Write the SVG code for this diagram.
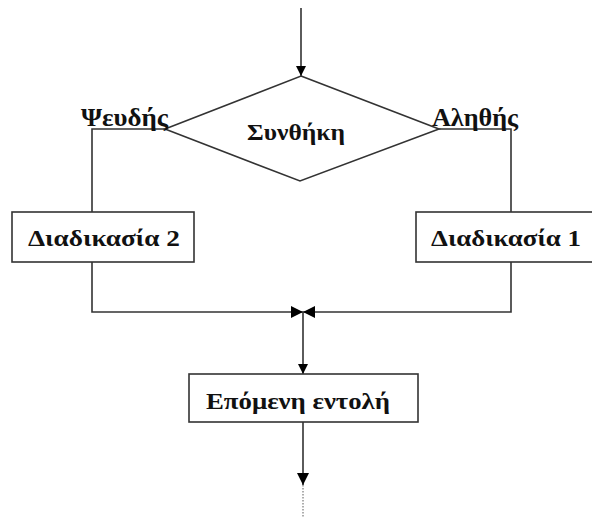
<svg xmlns="http://www.w3.org/2000/svg" width="592" height="518" viewBox="0 0 592 518">
<defs>
<marker id="arr" viewBox="0 0 10 10" refX="10" refY="5" markerWidth="10" markerHeight="10" markerUnits="userSpaceOnUse" orient="auto">
<path d="M0,0 L10,5 L0,10 z" fill="#000"/>
</marker>
<marker id="arrB" viewBox="0 0 12 12" refX="12" refY="6" markerWidth="12" markerHeight="12" markerUnits="userSpaceOnUse" orient="auto">
<path d="M0,0 L12,6 L0,12 z" fill="#000"/>
</marker>
</defs>
<style>
.shape{fill:#fff;stroke:#333;stroke-width:1.6}
.line{fill:none;stroke:#333;stroke-width:1.6}
.t{font-family:"Liberation Serif","Times New Roman",serif;font-weight:bold;font-size:23px;fill:#111}
.big{font-size:25px}
</style>
<rect width="592" height="518" fill="#fff"/>
<g id="connectors">
<line class="line" x1="301" y1="8" x2="301" y2="76" marker-end="url(#arr)"/>
<polyline class="line" points="165,129 92,129 92,212"/>
<polyline class="line" points="439,129 511,129 511,212"/>
<polyline class="line" points="92,262 92,312 303,312" marker-end="url(#arrB)"/>
<polyline class="line" points="511,262 511,312 303,312" marker-end="url(#arrB)"/>
<line class="line" x1="303" y1="312" x2="303" y2="374" marker-end="url(#arr)"/>
<line class="line" x1="303" y1="422" x2="303" y2="485" marker-end="url(#arrB)"/>
<line x1="303" y1="485" x2="303" y2="518" stroke="#999" stroke-width="1.6" stroke-dasharray="1.5,1.5"/>
</g>
<g id="condition">
<polygon class="shape" points="301,76 439,129 300,181 165,129"/>
<text class="t" x="247" y="140" textLength="98" lengthAdjust="spacingAndGlyphs">Συνθήκη</text>
</g>
<g id="label-false">
<text class="t big" x="81" y="126" textLength="87" lengthAdjust="spacingAndGlyphs">Ψευδής</text>
</g>
<g id="label-true">
<text class="t big" x="432" y="126" textLength="86" lengthAdjust="spacingAndGlyphs">Αληθής</text>
</g>
<g id="process2">
<rect class="shape" x="12" y="212" width="182" height="50"/>
<text class="t" x="28" y="246" textLength="152" lengthAdjust="spacingAndGlyphs">Διαδικασία 2</text>
</g>
<g id="process1">
<rect class="shape" x="416" y="212" width="190" height="50"/>
<text class="t" x="431" y="246" textLength="150" lengthAdjust="spacingAndGlyphs">Διαδικασία 1</text>
</g>
<g id="next">
<rect class="shape" x="189" y="374" width="229" height="48"/>
<text class="t" x="206" y="409" textLength="184" lengthAdjust="spacingAndGlyphs">Επόμενη εντολή</text>
</g>
</svg>
